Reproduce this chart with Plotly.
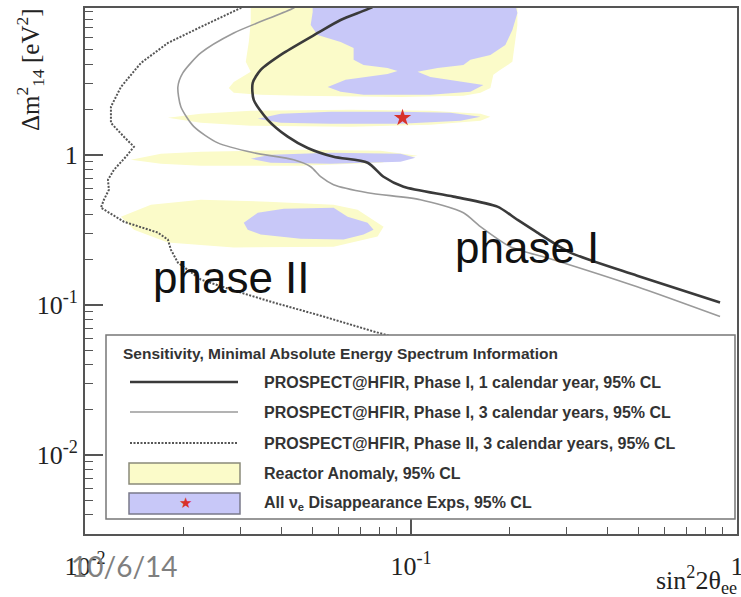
import plotly.graph_objects as go

# ---------------- data (sin^2 2theta, dm^2 [eV^2]) ----------------
# Sensitivity curves
p1_1yr_x = [0.07842, 0.07516, 0.06083, 0.05172, 0.04070, 0.03459, 0.03269, 0.03293, 0.03636, 0.04186,
            0.04820, 0.05788, 0.07361, 0.08237, 0.09486, 0.1350, 0.1841, 0.2120, 0.2441, 0.3080, 0.4941, 0.8871]
p1_1yr_y = [10.1, 9.51, 7.91, 6.48, 4.77, 3.68, 3.01, 2.32, 1.71, 1.32,
            1.11, 0.970, 0.885, 0.714, 0.612, 0.526, 0.451, 0.369, 0.303, 0.223, 0.1565, 0.1036]

p1_3yr_x = [0.04586, 0.04366, 0.02860, 0.02266, 0.01996, 0.01927, 0.01968, 0.02158, 0.02555, 0.03293,
            0.04366, 0.04923, 0.05283, 0.05788, 0.07361, 0.1069, 0.1448, 0.1633, 0.2017, 0.2733, 0.4941, 0.8871]
p1_3yr_y = [10.26, 9.51, 6.48, 4.77, 3.51, 2.83, 2.09, 1.54, 1.20, 1.03,
            0.926, 0.832, 0.714, 0.632, 0.559, 0.502, 0.411, 0.332, 0.244, 0.200, 0.132, 0.0836]

p2_3yr_x = [0.03224, 0.03005, 0.02266, 0.01796, 0.01484, 0.01289, 0.01201, 0.01201, 0.01316, 0.01413,
            0.01335, 0.01227, 0.01176, 0.01184, 0.01143, 0.01119, 0.01316, 0.01673, 0.01796, 0.01834,
            0.01927, 0.02266, 0.02801, 0.03792, 0.05395, 0.07676, 0.1069]
p2_3yr_y = [10.26, 9.51, 7.11, 5.56, 4.09, 2.83, 2.09, 1.63, 1.32, 1.13,
            0.970, 0.795, 0.682, 0.585, 0.502, 0.444, 0.358, 0.303, 0.272, 0.2333,
            0.1912, 0.1474, 0.1264, 0.1036, 0.0836, 0.0665, 0.0544]

# Reactor anomaly 95% CL islands
ra_top_x = [0.03224, 0.2120, 0.2120, 0.2090, 0.2046, 0.1880, 0.1789, 0.1752, 0.1633, 0.1448,
            0.09287, 0.04586, 0.03459, 0.02860, 0.02761, 0.02860, 0.03224, 0.03113, 0.03180, 0.03224]
ra_top_y = [12, 12, 7.33, 5.65, 4.16, 3.68, 3.41, 2.79, 2.59, 2.47,
            2.43, 2.47, 2.51, 2.59, 2.79, 3.06, 3.57, 4.16, 5.65, 7.67]
ra_b2_x = [0.01796, 0.02266, 0.03224, 0.06528, 0.1147, 0.1633, 0.1752, 0.1633, 0.1147, 0.06528, 0.03224, 0.02266]
ra_b2_y = [1.763, 1.874, 1.962, 1.993, 1.962, 1.874, 1.789, 1.684, 1.584, 1.540, 1.559, 1.633]
ra_b3_x = [0.01383, 0.01709, 0.02266, 0.04586, 0.08066, 0.1047, 0.08066, 0.04586, 0.02266, 0.01709]
ra_b3_y = [0.926, 1.015, 1.047, 1.080, 1.063, 0.985, 0.885, 0.845, 0.845, 0.871]
ra_b4_x = [0.01289, 0.01593, 0.02266, 0.03636, 0.05788, 0.06858, 0.08237, 0.07897, 0.05788, 0.02860, 0.01796, 0.01413]
ra_b4_y = [0.387, 0.465, 0.502, 0.487, 0.465, 0.430, 0.332, 0.285, 0.244, 0.241, 0.260, 0.317]

# All nu_e disappearance experiments 95% CL islands
ad_top_x = [0.04993, 0.2046, 0.2120, 0.2046, 0.1947, 0.1752, 0.1521, 0.1448, 0.1206, 0.1047, 0.1147,
            0.1668, 0.1521, 0.1147, 0.07152, 0.06083, 0.05551, 0.06301, 0.08472, 0.09092, 0.08472,
            0.07152, 0.06668, 0.06668, 0.06083, 0.05172, 0.04923, 0.04993]
ad_top_y = [12, 12, 8.81, 6.79, 5.395, 4.63, 4.29, 3.97, 3.79, 3.57, 3.30,
            2.92, 2.63, 2.51, 2.51, 2.63, 2.83, 3.16, 3.458, 3.622, 3.79,
            3.97, 4.29, 5.15, 5.65, 6.29, 7.33, 8.94]
ad_b2_x = [0.03388, 0.03983, 0.05668, 0.09287, 0.1321, 0.1633, 0.1418, 0.09287, 0.05668, 0.03983]
ad_b2_y = [1.736, 1.874, 1.932, 1.932, 1.903, 1.789, 1.684, 1.608, 1.608, 1.633]
ad_b3_x = [0.03224, 0.03713, 0.05668, 0.09287, 0.1032, 0.09287, 0.05668, 0.03713]
ad_b3_y = [0.941, 1.0, 1.03, 1.015, 0.955, 0.898, 0.871, 0.885]
ad_b4_x = [0.03069, 0.03388, 0.04070, 0.05788, 0.06391, 0.07361, 0.07676, 0.07152, 0.06213, 0.04586, 0.03459, 0.03156]
ad_b4_y = [0.353, 0.411, 0.437, 0.444, 0.387, 0.353, 0.317, 0.294, 0.272, 0.276, 0.294, 0.317]

best_fit_x = [0.0942]
best_fit_y = [1.763]

tick_vals = [0.01, 0.1, 1]
tick_text = ["10<sup>-2</sup>", "10<sup>-1</sup>", "1"]
x_minor = [k * 0.01 for k in range(2, 10)] + [k * 0.1 for k in range(2, 10)]
y_minor = [k * 0.001 for k in range(3, 10)] + [k * 0.01 for k in range(2, 10)] + \
          [k * 0.1 for k in range(2, 10)] + [float(k) for k in range(2, 10)]

legend_title = "Sensitivity, Minimal Absolute Energy Spectrum Information"
legend_labels = ["PROSPECT@HFIR, Phase I, 1 calendar year, 95% CL",
                 "PROSPECT@HFIR, Phase I, 3 calendar years, 95% CL",
                 "PROSPECT@HFIR, Phase II, 3 calendar years, 95% CL",
                 "Reactor Anomaly, 95% CL",
                 "All ν<sub>e</sub> Disappearance Exps, 95% CL"]

YELLOW = "#fbfbc9"
BLUE = "#c8c8f8"
DARK = "#3a3a3a"
LIGHT = "#9a9a9a"
DOT = "#555555"
AX = "#555555"

fig = go.Figure()

def region(xs, ys, color):
    fig.add_trace(go.Scatter(x=xs + xs[:1], y=ys + ys[:1], mode="lines", fill="toself",
                             fillcolor=color, line=dict(width=0, color=color),
                             hoverinfo="skip", showlegend=False))

for xs, ys in [(ra_top_x, ra_top_y), (ra_b2_x, ra_b2_y), (ra_b3_x, ra_b3_y), (ra_b4_x, ra_b4_y)]:
    region(xs, ys, YELLOW)
for xs, ys in [(ad_top_x, ad_top_y), (ad_b2_x, ad_b2_y), (ad_b3_x, ad_b3_y), (ad_b4_x, ad_b4_y)]:
    region(xs, ys, BLUE)

fig.add_trace(go.Scatter(x=best_fit_x, y=best_fit_y, mode="markers",
                         marker=dict(symbol="star", size=13, color="#d8322a", line=dict(width=0)),
                         showlegend=False))

fig.add_trace(go.Scatter(x=p2_3yr_x, y=p2_3yr_y, mode="lines",
                         line=dict(color=DOT, width=2, dash="2px,1.5px"), showlegend=False))
fig.add_trace(go.Scatter(x=p1_3yr_x, y=p1_3yr_y, mode="lines",
                         line=dict(color=LIGHT, width=1.6, shape="spline", smoothing=0.7), showlegend=False))
fig.add_trace(go.Scatter(x=p1_1yr_x, y=p1_1yr_y, mode="lines",
                         line=dict(color=DARK, width=2.6, shape="spline", smoothing=0.7), showlegend=False))

W, H = 741, 597
L, R, T, B = 85, 4, 8, 63
PW, PH = W - L - R, H - T - B

def px(xp):
    return (xp - L) / PW

def py(yp):
    return (H - B - yp) / PH

serif = "Liberation Serif, Times New Roman, serif"
sans = "Liberation Sans, Arial, sans-serif"

shapes = []
annotations = []

# legend box
shapes.append(dict(type="rect", xref="paper", yref="paper", x0=px(106), x1=px(735), y0=py(519), y1=py(335),
                   line=dict(color="#777777", width=1.5), fillcolor="white", layer="above"))
annotations.append(dict(xref="paper", yref="paper", x=px(121), y=py(353), xanchor="left", yanchor="middle",
                        text="<b>" + legend_title + "</b>", showarrow=False,
                        font=dict(family=sans, size=15.5, color="#333333")))
row_y = [382, 412, 443, 473, 503]
line_styles = [dict(color=DARK, width=2.6), dict(color=LIGHT, width=1.6), dict(color=DOT, width=2, dash="2px,1.5px")]
for i, ls in enumerate(line_styles):
    shapes.append(dict(type="line", xref="paper", yref="paper", x0=px(130), x1=px(238),
                       y0=py(row_y[i]), y1=py(row_y[i]), line=ls, layer="above"))
shapes.append(dict(type="rect", xref="paper", yref="paper", x0=px(129), x1=px(240), y0=py(484), y1=py(463),
                   line=dict(color="#8a8a7a", width=1.5), fillcolor=YELLOW, layer="above"))
shapes.append(dict(type="rect", xref="paper", yref="paper", x0=px(129), x1=px(240), y0=py(514), y1=py(493),
                   line=dict(color="#7a7a8a", width=1.5), fillcolor=BLUE, layer="above"))
annotations.append(dict(xref="paper", yref="paper", x=px(185), y=py(503), text="★", showarrow=False,
                        xanchor="center", yanchor="middle", font=dict(size=15, color="#d8322a",
                                                                       family="DejaVu Sans")))
for i, lab in enumerate(legend_labels):
    annotations.append(dict(xref="paper", yref="paper", x=px(262), y=py(row_y[i]), xanchor="left",
                            yanchor="middle", text="<b>" + lab + "</b>", showarrow=False,
                            font=dict(family=sans, size=16, color="#333333")))

# phase labels
annotations.append(dict(xref="paper", yref="paper", x=px(527), y=py(247), text="phase I", showarrow=False,
                        xanchor="center", yanchor="middle", font=dict(family=sans, size=44, color="#111111")))
annotations.append(dict(xref="paper", yref="paper", x=px(231), y=py(277), text="phase II", showarrow=False,
                        xanchor="center", yanchor="middle", font=dict(family=sans, size=44, color="#111111")))

# axis titles
annotations.append(dict(xref="paper", yref="paper", x=px(30), y=py(70), textangle=-90,
                        text="Δm<sup>2</sup><sub>14</sub> [eV<sup>2</sup>]", showarrow=False,
                        xanchor="center", yanchor="middle", font=dict(family=serif, size=25, color="#222222")))
annotations.append(dict(xref="paper", yref="paper", x=px(739), y=py(580), xanchor="right", yanchor="middle",
                        text="sin<sup>2</sup>2θ<sub>ee</sub>", showarrow=False,
                        font=dict(family=serif, size=26, color="#222222")))

# date stamp
annotations.append(dict(xref="paper", yref="paper", x=px(124), y=py(566), text="10/6/14", showarrow=False,
                        xanchor="center", yanchor="middle", font=dict(family="Lato, Open Sans, sans-serif",
                                                                      size=28, color="#7f7f7f")))

fig.update_layout(
    width=W, height=H, margin=dict(l=L, r=R, t=T, b=B, autoexpand=False),
    paper_bgcolor="white", plot_bgcolor="white",
    showlegend=False, shapes=shapes, annotations=annotations,
    xaxis=dict(type="log", range=[-2, 0], showgrid=False, zeroline=False, automargin=False,
               showline=True, linecolor=AX, linewidth=2, mirror=True,
               ticks="inside", ticklen=16, tickwidth=1.5, tickcolor=AX,
               tickmode="array", tickvals=tick_vals, ticktext=tick_text,
               ticklabelstandoff=8, ticklabeloverflow="allow",
               tickfont=dict(family=serif, size=26, color="#222222"),
               minor=dict(ticks="inside", ticklen=7, tickwidth=1.3, tickcolor=AX,
                          tickmode="array", tickvals=x_minor, showgrid=False)),
    yaxis=dict(type="log", range=[-2.527, 0.978], showgrid=False, zeroline=False, automargin=False,
               showline=True, linecolor=AX, linewidth=2, mirror=True,
               ticks="inside", ticklen=18, tickwidth=1.5, tickcolor=AX,
               tickmode="array", tickvals=tick_vals, ticktext=tick_text,
               ticklabeloverflow="allow",
               tickfont=dict(family=serif, size=26, color="#222222"),
               minor=dict(ticks="inside", ticklen=8, tickwidth=1.3, tickcolor=AX,
                          tickmode="array", tickvals=y_minor, showgrid=False)),
)

fig.write_html("out.html")
